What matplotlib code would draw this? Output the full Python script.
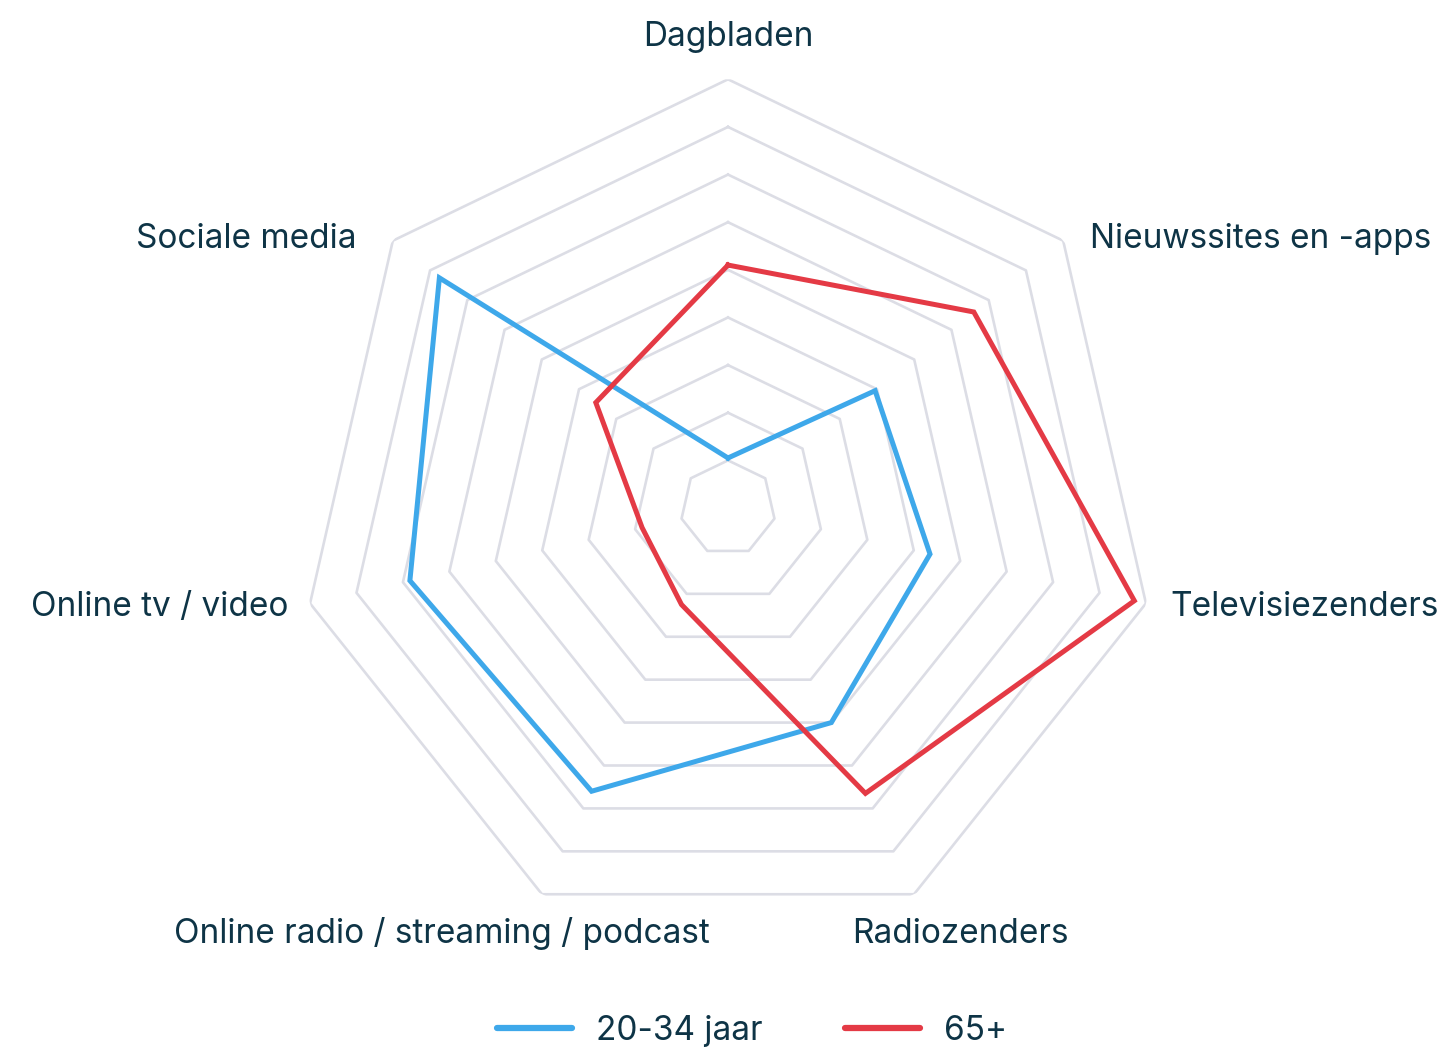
import numpy as np
import matplotlib.pyplot as plt

# categorieën (met de klok mee, beginnend boven)
categories = ['Dagbladen', 'Nieuwssites en -apps', 'Televisiezenders', 'Radiozenders',
              'Online radio / streaming / podcast', 'Online tv / video', 'Sociale media']
jong = [10.5, 39.5, 43.5, 50.0, 66.0, 68.5, 77.5]     # 20-34 jaar
oud = [51.0, 66.0, 87.5, 66.5, 22.5, 18.5, 35.5]      # 65+
series_names = ['20-34 jaar', '65+']
rings = [10, 20, 30, 40, 50, 60, 70, 80, 90]

text_color = '#0e3446'
blue = '#3ea8ea'
red = '#e43a45'
grid_color = '#dcdde5'

plt.rcParams['font.family'] = ['Inter', 'DejaVu Sans']

W, H = 1439, 1053
fig = plt.figure(figsize=(W / 100, H / 100), dpi=100)

# centrum en straal in pixels
cx, cy, R = 728, 508, 428.7
ax = fig.add_axes([(cx - R) / W, (H - cy - R) / H, 2 * R / W, 2 * R / H], projection='polar')
ax.set_theta_zero_location('N')
ax.set_theta_direction(-1)
ax.set_ylim(0, 90)
ax.axis('off')

n = len(categories)
theta = np.linspace(0, 2 * np.pi, n, endpoint=False)
theta_c = np.append(theta, theta[0])

for r in rings:
    ax.plot(theta_c, [r] * (n + 1), color=grid_color, lw=1.9, zorder=1)

ax.plot(theta_c, jong + jong[:1], color=blue, lw=3.6, zorder=3, label=series_names[0],
        solid_joinstyle='miter')
ax.plot(theta_c, oud + oud[:1], color=red, lw=3.6, zorder=3, label=series_names[1],
        solid_joinstyle='miter')

# labels (pixelposities van de referentie)
label_pos = [
    (728, 46, 'center'),
    (1090, 248, 'left'),
    (1170, 616, 'left'),
    (852, 943, 'left'),
    (710, 943, 'right'),
    (288, 616, 'right'),
    (357, 248, 'right'),
]
for name, (x, y, ha) in zip(categories, label_pos):
    fig.text(x / W, 1 - y / H, name, ha=ha, va='baseline', fontsize=24, color=text_color)

leg = fig.legend(loc='center', bbox_to_anchor=(752 / W, 22 / H), ncol=2, frameon=False,
                 fontsize=24, handlelength=2.25, columnspacing=2.5, handletextpad=0.7,
                 labelcolor=text_color, borderpad=0, borderaxespad=0)
for line in leg.get_lines():
    line.set_linewidth(4.5)
    line.set_solid_capstyle('round')

fig.savefig('out.png', dpi=100)
